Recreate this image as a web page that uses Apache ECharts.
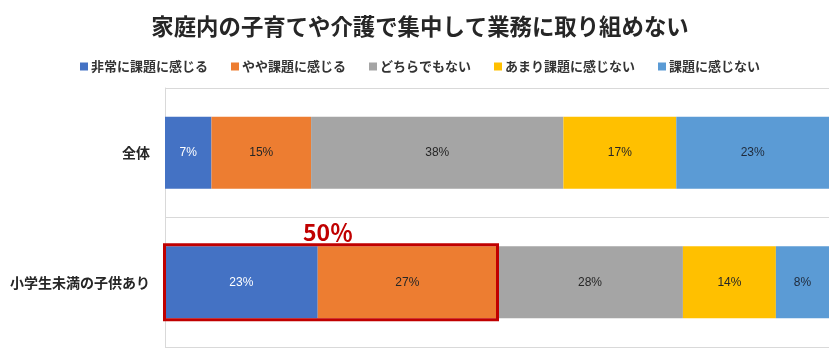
<!DOCTYPE html>
<html>
<head>
<meta charset="utf-8">
<script src="https://cdn.jsdelivr.net/npm/echarts@6/dist/echarts.min.js"></script>
<style>
html,body{margin:0;padding:0;background:#fff;}
#main{width:840px;height:357px;}
</style>
</head>
<body>
<div id="main"></div>
<script>
const titleText = '家庭内の子育てや介護で集中して業務に取り組めない';
const categories = ['全体', '小学生未満の子供あり'];
const seriesNames = ['非常に課題に感じる', 'やや課題に感じる', 'どちらでもない', 'あまり課題に感じない', '課題に感じない'];
const veryMuch = [7, 23];
const somewhat = [15, 27];
const neutral = [38, 28];
const notMuch = [17, 14];
const notAtAll = [23, 8];
const highlightCategory = 1;
const highlightText = '50％';

const colors = ['#4472C4', '#ED7D31', '#A5A5A5', '#FFC000', '#5B9BD5'];
const labelColors = ['#ffffff', '#262626', '#262626', '#262626', '#1f2a3a'];
const values = [veryMuch, somewhat, neutral, notMuch, notAtAll];
const barRatio = 0.555;
const highlightEnd = veryMuch[highlightCategory] + somewhat[highlightCategory];

const jp = '"Noto Sans CJK JP", "Noto Sans", sans-serif';

const chart = echarts.init(document.getElementById('main'), null, {renderer: 'canvas'});

const barSeries = seriesNames.map((name, i) => ({
  name: name,
  type: 'bar',
  stack: 'total',
  barWidth: (barRatio * 100) + '%',
  itemStyle: {color: colors[i]},
  label: {
    show: true,
    position: 'inside',
    formatter: '{c}%',
    color: labelColors[i],
    fontSize: 12,
    fontFamily: '"Liberation Sans", Arial, sans-serif'
  },
  emphasis: {disabled: true},
  data: values[i]
}));

barSeries.push({
  type: 'custom',
  z: 10,
  silent: true,
  encode: {x: [0, 2], y: 1},
  data: [[0, highlightCategory, highlightEnd]],
  renderItem: function (params, api) {
    const a = api.coord([api.value(0), api.value(1)]);
    const b = api.coord([api.value(2), api.value(1)]);
    const bandH = api.size([0, 1])[1];
    const h = bandH * barRatio;
    const top = a[1] - h / 2 - 1.5;
    return {
      type: 'group',
      children: [
        {
          type: 'rect',
          shape: {x: a[0] - 0.5, y: top, width: b[0] - a[0] + 1, height: h + 3},
          style: {fill: 'none', stroke: '#C00000', lineWidth: 3}
        },
        {
          type: 'text',
          style: {
            text: highlightText,
            x: (a[0] + b[0]) / 2 - 3,
            y: top - 1,
            align: 'center',
            verticalAlign: 'bottom',
            fill: '#C00000',
            font: 'bold 23px "Noto Sans CJK JP", sans-serif'
          }
        }
      ]
    };
  }
});

chart.setOption({
  animation: false,
  title: {
    text: titleText,
    left: 'center',
    top: 10,
    textStyle: {fontSize: 22.4, fontWeight: 'bold', color: '#262626', fontFamily: jp}
  },
  legend: {
    data: seriesNames,
    left: 'center',
    top: 55,
    icon: 'rect',
    itemWidth: 8,
    itemHeight: 8,
    itemGap: 23,
    textStyle: {fontSize: 13, color: '#333333', fontFamily: jp, fontWeight: 'bold', padding: [0, 0, 0, -2]}
  },
  grid: {left: 165, right: 11, top: 88, bottom: 10, containLabel: false},
  xAxis: {
    type: 'value',
    min: 0,
    max: 100,
    show: false
  },
  yAxis: {
    type: 'category',
    data: categories,
    inverse: true,
    axisLine: {show: true, lineStyle: {color: '#D9D9D9', width: 1}},
    axisTick: {show: false},
    splitLine: {show: true, lineStyle: {color: '#D9D9D9', width: 1}},
    axisLabel: {fontSize: 14, fontWeight: 'bold', color: '#262626', fontFamily: jp, margin: 15}
  },
  series: barSeries
});
</script>
</body>
</html>
